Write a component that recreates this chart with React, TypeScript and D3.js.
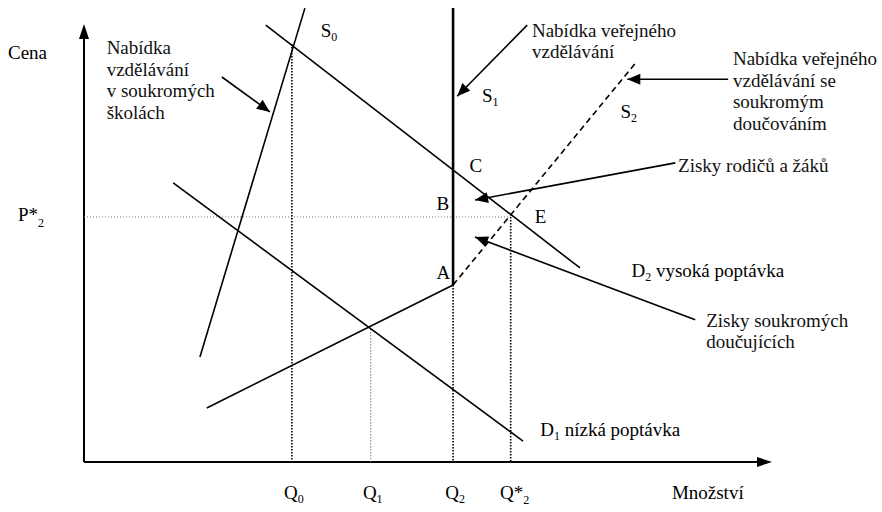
import React from "react";
import * as d3 from "d3";

// quantity / price in chart units (0..100 on each axis)
const qTicks = [
  { name: "Q", sub: "0", star: false, q: 30.3 },
  { name: "Q", sub: "1", star: false, q: 41.8 },
  { name: "Q", sub: "2", star: false, q: 53.8 },
  { name: "Q*", sub: "2", star: true, q: 62.2 },
];
const pStar = 56.2;

const privateSupply = [[16.9, 24.1], [32.2, 104.1]];
const demandHigh = [[26.5, 100.2], [72.3, 44.5]];
const demandLow = [[13.0, 64.0], [64.0, 4.8]];
const publicSupply = [[53.8, 104.1], [53.8, 40.6]];
const lowerSupply = [[17.9, 12.4], [53.8, 40.6]];
const tutoringSupply = [[53.8, 40.6], [80.5, 91.7]];

// dotted drop lines: [q, p top, colour, width]
const dropLines = [
  [30.3, 95.9, "#000", 1.6],
  [41.8, 30.5, "#777", 1],
  [53.8, 40.6, "#000", 1.6],
  [62.2, 56.2, "#000", 1.6],
];

const arrows = [
  [[20.1, 88.3], [27.1, 80.3]],
  [[64.6, 100.2], [54.4, 83.9]],
  [[93.9, 87.8], [79.2, 87.8]],
  [[86.2, 68.6], [57.0, 60.1]],
  [[89.1, 32.6], [57.0, 51.6]],
];

const textBlocks = [
  { at: [3.3, 93.5], lines: ["Nabídka", "vzdělávání", "v soukromých", "školách"] },
  { at: [65.3, 97.5], lines: ["Nabídka veřejného", "vzdělávání"] },
  { at: [94.6, 91.0], lines: ["Nabídka veřejného", "vzdělávání se", "soukromým", "doučováním"] },
  { at: [86.6, 66.5], lines: ["Zisky rodičů a žáků"] },
  { at: [90.7, 31.0], lines: ["Zisky soukromých", "doučujících"] },
];

const pointLabels = [
  { t: "C", at: [56.2, 66.5] },
  { t: "B", at: [51.4, 57.9] },
  { t: "A", at: [51.4, 41.9] },
  { t: "E", at: [65.7, 54.8] },
];

const W = 882;
const H = 512;
const FS = 19;
const tStyle = { fontFamily: "'Liberation Serif', serif" };

export default function App() {
  const x = d3.scaleLinear().domain([0, 100]).range([84, 770]);
  const y = d3.scaleLinear().domain([0, 100]).range([462, 26]);
  const line = d3
    .line<number[]>()
    .x((d) => x(d[0]))
    .y((d) => y(d[1]));

  const arrowHead = (a: number[], b: number[]) => {
    const x1 = x(a[0]), y1 = y(a[1]), x2 = x(b[0]), y2 = y(b[1]);
    const ang = Math.atan2(y2 - y1, x2 - x1);
    const len = 13, half = 5.5;
    const bx = x2 - len * Math.cos(ang), by = y2 - len * Math.sin(ang);
    const px = -Math.sin(ang) * half, py = Math.cos(ang) * half;
    return `M${x2},${y2}L${bx + px},${by + py}L${bx - px},${by - py}Z`;
  };

  const sub = (base: string, s: string, px: number, py: number) => (
    <text x={px} y={py} fontSize={FS} style={tStyle}>
      {base}
      <tspan fontSize={12} dy={4}>{s}</tspan>
    </text>
  );

  return (
    <svg width={W} height={H} style={{ position: "absolute", left: 0, top: 0, background: "#fff" }}>
      <rect width={W} height={H} fill="#fff" />
      {/* axes */}
      <line x1={x(0)} y1={y(0)} x2={x(0)} y2={y(100) + 12} stroke="#000" strokeWidth={2} />
      <path d={`M${x(0)},${y(100) - 2}L${x(0) - 5},${y(100) + 13}L${x(0) + 5},${y(100) + 13}Z`} />
      <line x1={x(0)} y1={y(0)} x2={x(100) - 12} y2={y(0)} stroke="#000" strokeWidth={2} />
      <path d={`M${x(100) + 2},${y(0)}L${x(100) - 13},${y(0) - 5}L${x(100) - 13},${y(0) + 5}Z`} />

      {/* dotted guides */}
      <line x1={x(0)} y1={y(pStar)} x2={x(62.2)} y2={y(pStar)} stroke="#777" strokeWidth={1} strokeDasharray="1,2" />
      {dropLines.map((d, i) => (
        <line key={i} x1={x(d[0] as number)} y1={y(d[1] as number)} x2={x(d[0] as number)} y2={y(0)}
          stroke={d[2] as string} strokeWidth={d[3] as number} strokeDasharray="1.5,1.5" />
      ))}

      {/* curves */}
      <path d={line(privateSupply as any) as string} stroke="#000" strokeWidth={1.6} fill="none" />
      <path d={line(demandHigh as any) as string} stroke="#000" strokeWidth={1.6} fill="none" />
      <path d={line(demandLow as any) as string} stroke="#000" strokeWidth={1.6} fill="none" />
      <path d={line(publicSupply as any) as string} stroke="#000" strokeWidth={2.6} fill="none" />
      <path d={line(lowerSupply as any) as string} stroke="#000" strokeWidth={1.6} fill="none" />
      <path d={line(tutoringSupply as any) as string} stroke="#000" strokeWidth={1.6} fill="none" strokeDasharray="6,4" />

      {/* annotation arrows */}
      {arrows.map((a, i) => (
        <g key={i}>
          <line x1={x(a[0][0])} y1={y(a[0][1])} x2={x(a[1][0])} y2={y(a[1][1])} stroke="#000" strokeWidth={1.6} />
          <path d={arrowHead(a[0], a[1])} fill="#000" />
        </g>
      ))}

      {/* text blocks */}
      {textBlocks.map((b, i) => (
        <text key={i} fontSize={FS} fill="#111" style={tStyle}>
          {b.lines.map((l, j) => (
            <tspan key={j} x={x(b.at[0])} y={y(b.at[1]) + j * 21.5}>{l}</tspan>
          ))}
        </text>
      ))}
      {pointLabels.map((p, i) => (
        <text key={i} x={x(p.at[0])} y={y(p.at[1])} fontSize={FS} style={tStyle}>{p.t}</text>
      ))}

      {sub("S", "0", x(34.5), y(97.5))}
      {sub("S", "1", x(58.0), y(82.5))}
      {sub("S", "2", x(78.2), y(79.0))}
      <text x={x(79.8)} y={y(42.5)} fontSize={FS} style={tStyle}>
        D<tspan fontSize={12} dy={4}>2</tspan><tspan dy={-4}> vysoká poptávka</tspan>
      </text>
      <text x={x(66.5)} y={y(6.0)} fontSize={FS} style={tStyle}>
        D<tspan fontSize={12} dy={4}>1</tspan><tspan dy={-4}> nízká poptávka</tspan>
      </text>

      <text x={8} y={y(92.5)} fontSize={FS} style={tStyle}>Cena</text>
      <text x={18} y={y(pStar) + 4} fontSize={FS} style={tStyle}>
        P*<tspan fontSize={12} dy={6}>2</tspan>
      </text>
      <text x={x(85.7)} y={y(-8.5)} fontSize={FS} style={tStyle}>Množství</text>
      {qTicks.map((t, i) => (
        <text key={i} x={x(t.q) + (t.star ? 4 : 2)} y={y(-8.5)} textAnchor="middle" fontSize={FS} style={tStyle}>
          {t.name}
          <tspan fontSize={12} dy={t.star ? 5 : 4}>{t.sub}</tspan>
        </text>
      ))}
    </svg>
  );
}
